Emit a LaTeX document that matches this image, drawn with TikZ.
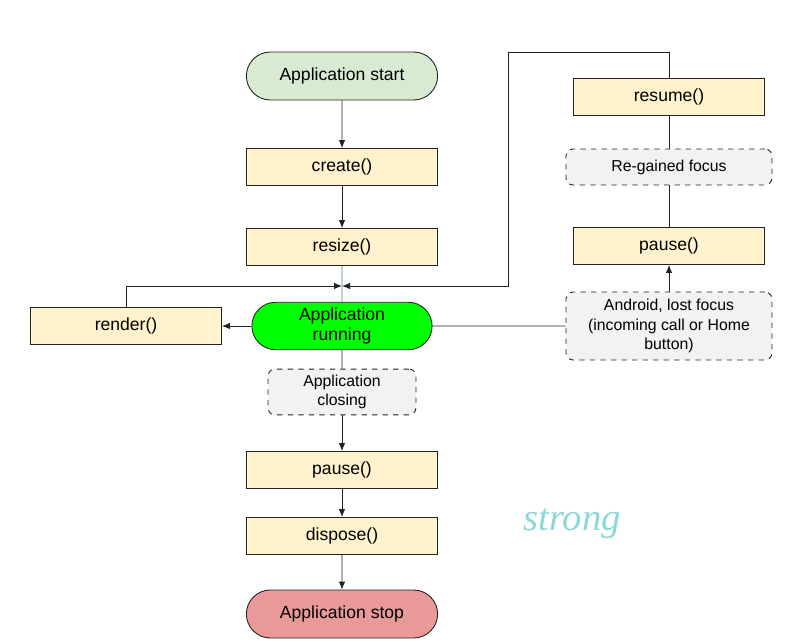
\documentclass[tikz,border=0pt]{standalone}
\usepackage{fontspec}
\setmainfont{Liberation Sans}
\newfontfamily\markfont{Liberation Serif}
\usetikzlibrary{
	shapes.misc,
	positioning,
	arrows.meta
}

\definecolor{startgreen}{HTML}{D9EAD3}
\definecolor{procfill}{HTML}{FFF2CC}
\definecolor{runfill}{HTML}{00FF00}
\definecolor{stopred}{HTML}{EA9999}
\definecolor{notefill}{HTML}{F2F2F2}
\definecolor{linegray}{HTML}{222222}
\definecolor{linkblue}{HTML}{4A7EAA}
\definecolor{markteal}{HTML}{8ED8D8}

\tikzset{
	proc/.style={draw=linegray,fill=procfill,rectangle,minimum width=3.82cm,minimum height=0.74cm},
	term/.style={draw=linegray,rounded rectangle,minimum width=4.06cm,minimum height=0.96cm},
	note/.style={draw=linegray,dashed,fill=notefill,rounded corners=4pt,align=center,
		font=\fontsize{9}{11}\selectfont},
	flow/.style={draw=linegray,-{Latex[length=1.6mm,width=1.3mm]}},
	link/.style={draw=linegray}
}

\begin{document}
\begin{tikzpicture}[x=0.02cm,y=-0.02cm,font=\fontsize{10}{12}\selectfont,line width=0.5pt]
	\useasboundingbox (0,0) rectangle (801,642);
	\draw
		node [term,fill=startgreen]                  (start)   at (342,76)  {Application start}
		node [proc]                                  (create)  at (342,167) {create()}
		node [proc]                                  (resize)  at (342,247) {resize()}
		node [term,fill=runfill,minimum width=3.84cm,
		      minimum height=0.94cm,align=center,
		      font=\fontsize{10}{11}\selectfont]    (running) at (342,326) {Application\\running}
		node [proc]                                  (render)  at (126,326) {render()}
		node [note,minimum width=2.96cm,
		      minimum height=0.84cm]                 (closing) at (342,392) {Application\\closing}
		node [proc]                                  (pauseL)  at (342,470) {pause()}
		node [proc]                                  (dispose) at (342,536) {dispose()}
		node [term,fill=stopred]                     (stop)    at (342,614) {Application stop}
		node [note,minimum width=4.12cm,
		      minimum height=1.36cm]                 (lost)    at (669,326) {Android, lost focus\\(incoming call or Home\\button)}
		node [proc]                                  (pauseR)  at (669,246) {pause()}
		node [note,minimum width=4.12cm,
		      minimum height=0.72cm]                 (regain)  at (669,167) {Re-gained focus}
		node [proc]                                  (resume)  at (669,97)  {resume()}
	;
	\coordinate (join)    at (342,286);
	\coordinate (loopTop) at (508,52);

	\draw
		(start)   edge[flow] (create)
		(create)  edge[flow] (resize)
		(resize)  edge[draw=linkblue] (running)
		(running) edge[flow] (render)
		(lost)    edge[link] (running)
		(lost)    edge[flow] (pauseR)
		(pauseR)  edge[link] (regain)
		(regain)  edge[link] (resume)
		(running) edge[link] (closing)
		(closing) edge[flow] (pauseL)
		(pauseL)  edge[flow] (dispose)
		(dispose) edge[flow] (stop)
	;
	\draw[flow] (render.north) |- (join);
	\draw[flow] (resume.north) |- (loopTop) |- (join);

	\node[text=markteal,font=\markfont\itshape\fontsize{22}{22}\selectfont] (mark) at (572,524) {strong};
\end{tikzpicture}
\end{document}
